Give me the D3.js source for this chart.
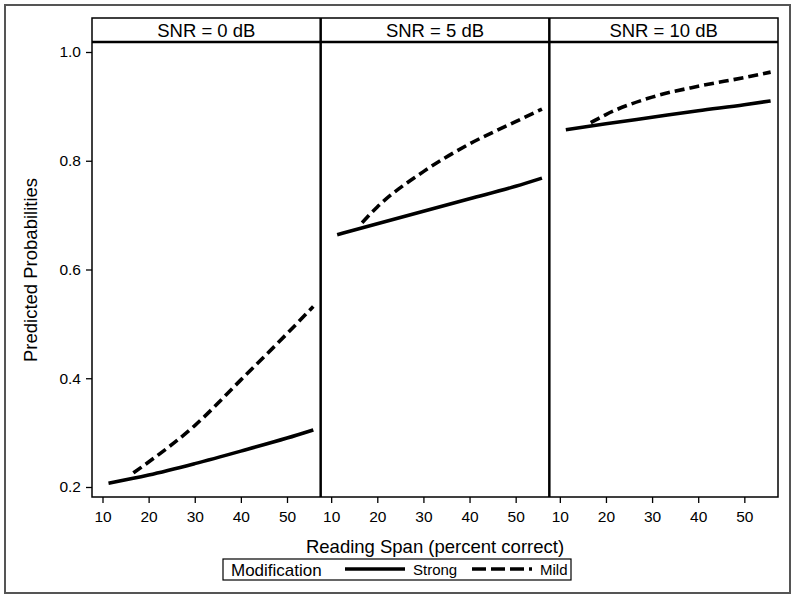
<!DOCTYPE html>
<html>
<head>
<meta charset="utf-8">
<script src="https://cdn.jsdelivr.net/npm/d3@7"></script>
<style>
  body { margin: 0; background: #fff; }
  text { font-family: "Liberation Sans", Arial, sans-serif; fill: #000; }
</style>
</head>
<body>
<svg id="chart" width="800" height="600"></svg>
<script>
// panels and series
const panels = ["SNR = 0 dB", "SNR = 5 dB", "SNR = 10 dB"];
const xTicks = [10, 20, 30, 40, 50];
const yTicks = [0.2, 0.4, 0.6, 0.8, 1.0];

const strongX = [11.3, 20, 30, 40, 50, 55.7];
const mildX = [16.7, 20, 30, 40, 50, 55.7];

const strongY = [
    [0.207, 0.222, 0.243, 0.266, 0.290, 0.305],
    [0.664, 0.684, 0.707, 0.730, 0.753, 0.768],
    [0.857, 0.868, 0.880, 0.892, 0.903, 0.910]
];
const mildY = [
    [0.226, 0.246, 0.313, 0.397, 0.482, 0.532],
    [0.686, 0.715, 0.780, 0.831, 0.872, 0.895],
    [0.870, 0.885, 0.917, 0.937, 0.953, 0.963]
];

let svg = d3.select("#chart");

// outer frame
svg.append("rect")
    .attr("x", 5).attr("y", 5)
    .attr("width", 785).attr("height", 588)
    .attr("fill", "none")
    .attr("stroke", "#555")
    .attr("stroke-width", 2);

let plotLeft = 92, plotRight = 778, plotTop = 18, stripBottom = 42, plotBottom = 497;
let panelW = (plotRight - plotLeft) / panels.length;

let y = d3.scaleLinear().domain([0.2, 1.0]).range([487, 52]);

let line = d3.line()
    .x(d => d[0])
    .y(d => y(d[1]))
    .curve(d3.curveMonotoneX);

panels.forEach(function(label, i) {
    let x0 = plotLeft + i * panelW;
    let x = d3.scaleLinear().domain([10, 50]).range([x0 + 10.5, x0 + 195]);

    let g = svg.append("g");

    // strip label
    g.append("text")
        .attr("x", x0 + panelW / 2)
        .attr("y", 37)
        .attr("text-anchor", "middle")
        .style("font-size", "18.5px")
        .text(label);

    // x axis
    let xAxis = d3.axisBottom(x).tickValues(xTicks).tickSize(6).tickPadding(8);
    let ax = g.append("g")
        .attr("transform", "translate(0," + plotBottom + ")")
        .call(xAxis);
    ax.select(".domain").remove();
    ax.selectAll("line").attr("stroke", "#000").attr("stroke-width", 1.3);
    ax.selectAll("text")
        .style("font-size", "15.5px")
        .style("font-family", "Liberation Sans, Arial, sans-serif");

    let strong = strongX.map((v, k) => [x(v), strongY[i][k]]);
    let mild = mildX.map((v, k) => [x(v), mildY[i][k]]);

    g.append("path")
        .attr("d", line(strong))
        .attr("fill", "none")
        .attr("stroke", "#000")
        .attr("stroke-width", 3.6);

    g.append("path")
        .attr("d", line(mild))
        .attr("fill", "none")
        .attr("stroke", "#000")
        .attr("stroke-width", 3.6)
        .attr("stroke-dasharray", "10,5");
});

// y axis
let yAxis = d3.axisLeft(y).tickValues(yTicks).tickSize(6).tickPadding(5)
    .tickFormat(d3.format(".1f"));
let ay = svg.append("g")
    .attr("transform", "translate(" + plotLeft + ",0)")
    .call(yAxis);
ay.select(".domain").remove();
ay.selectAll("line").attr("stroke", "#000").attr("stroke-width", 1.3);
ay.selectAll("text")
    .style("font-size", "15.5px")
    .style("font-family", "Liberation Sans, Arial, sans-serif");

// panel frame
svg.append("rect")
    .attr("x", plotLeft).attr("y", plotTop)
    .attr("width", plotRight - plotLeft).attr("height", plotBottom - plotTop)
    .attr("fill", "none")
    .attr("stroke", "#000")
    .attr("stroke-width", 1.5);
svg.append("line")
    .attr("x1", plotLeft).attr("x2", plotRight)
    .attr("y1", stripBottom).attr("y2", stripBottom)
    .attr("stroke", "#000").attr("stroke-width", 2.5);
for (let i = 1; i < panels.length; i++) {
    svg.append("line")
        .attr("x1", plotLeft + i * panelW).attr("x2", plotLeft + i * panelW)
        .attr("y1", plotTop).attr("y2", plotBottom)
        .attr("stroke", "#000").attr("stroke-width", 2.5);
}

// axis titles
svg.append("text")
    .attr("x", 435).attr("y", 553)
    .attr("text-anchor", "middle")
    .style("font-size", "18.5px")
    .text("Reading Span (percent correct)");

svg.append("text")
    .attr("transform", "translate(37,270) rotate(-90)")
    .attr("text-anchor", "middle")
    .style("font-size", "18.5px")
    .text("Predicted Probabilities");

// legend
let lg = svg.append("g");
lg.append("rect")
    .attr("x", 223).attr("y", 559)
    .attr("width", 348).attr("height", 21)
    .attr("fill", "#fff")
    .attr("stroke", "#000")
    .attr("stroke-width", 1.2);
lg.append("text")
    .attr("x", 231).attr("y", 576)
    .style("font-size", "17px")
    .text("Modification");
lg.append("line")
    .attr("x1", 345).attr("x2", 405)
    .attr("y1", 569).attr("y2", 569)
    .attr("stroke", "#000").attr("stroke-width", 3.4);
lg.append("text")
    .attr("x", 413).attr("y", 575)
    .style("font-size", "15px")
    .text("Strong");
lg.append("line")
    .attr("x1", 472).attr("x2", 532)
    .attr("y1", 569).attr("y2", 569)
    .attr("stroke", "#000").attr("stroke-width", 3.4)
    .attr("stroke-dasharray", "14,5");
lg.append("text")
    .attr("x", 540).attr("y", 575)
    .style("font-size", "15px")
    .text("Mild");
</script>
</body>
</html>
